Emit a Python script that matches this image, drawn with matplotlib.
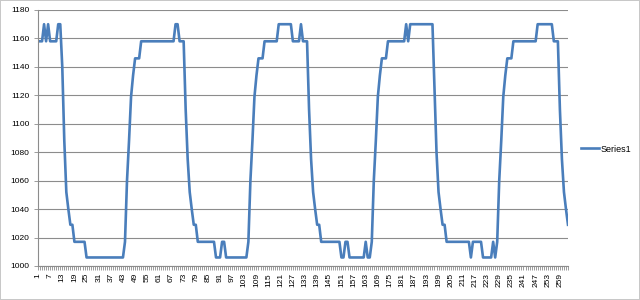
import numpy as np
import matplotlib.pyplot as plt
from matplotlib.ticker import FixedLocator, MultipleLocator

# values, one per category (1..263)
series1 = [
    1158, 1158, 1158, 1170, 1158, 1170, 1158, 1158, 1158, 1158,
    1170, 1170, 1140, 1088, 1052, 1040, 1029, 1029, 1017, 1017,
    1017, 1017, 1017, 1017, 1006, 1006, 1006, 1006, 1006, 1006,
    1006, 1006, 1006, 1006, 1006, 1006, 1006, 1006, 1006, 1006,
    1006, 1006, 1006, 1017, 1060, 1088, 1119, 1134, 1146, 1146,
    1146, 1158, 1158, 1158, 1158, 1158, 1158, 1158, 1158, 1158,
    1158, 1158, 1158, 1158, 1158, 1158, 1158, 1158, 1170, 1170,
    1158, 1158, 1158, 1110, 1075, 1052, 1040, 1029, 1029, 1017,
    1017, 1017, 1017, 1017, 1017, 1017, 1017, 1017, 1006, 1006,
    1006, 1017, 1017, 1006, 1006, 1006, 1006, 1006, 1006, 1006,
    1006, 1006, 1006, 1006, 1017, 1060, 1088, 1119, 1134, 1146,
    1146, 1146, 1158, 1158, 1158, 1158, 1158, 1158, 1158, 1170,
    1170, 1170, 1170, 1170, 1170, 1170, 1158, 1158, 1158, 1158,
    1170, 1158, 1158, 1158, 1110, 1075, 1052, 1040, 1029, 1029,
    1017, 1017, 1017, 1017, 1017, 1017, 1017, 1017, 1017, 1017,
    1006, 1006, 1017, 1017, 1006, 1006, 1006, 1006, 1006, 1006,
    1006, 1006, 1017, 1006, 1006, 1017, 1060, 1088, 1119, 1134,
    1146, 1146, 1146, 1158, 1158, 1158, 1158, 1158, 1158, 1158,
    1158, 1158, 1170, 1158, 1170, 1170, 1170, 1170, 1170, 1170,
    1170, 1170, 1170, 1170, 1170, 1170, 1125, 1080, 1052, 1040,
    1029, 1029, 1017, 1017, 1017, 1017, 1017, 1017, 1017, 1017,
    1017, 1017, 1017, 1017, 1006, 1017, 1017, 1017, 1017, 1017,
    1006, 1006, 1006, 1006, 1006, 1017, 1006, 1017, 1060, 1088,
    1119, 1134, 1146, 1146, 1146, 1158, 1158, 1158, 1158, 1158,
    1158, 1158, 1158, 1158, 1158, 1158, 1158, 1170, 1170, 1170,
    1170, 1170, 1170, 1170, 1170, 1158, 1158, 1158, 1110, 1075,
    1052, 1040, 1029,
]
categories = np.arange(1, len(series1) + 1)
x_labels = categories[::6]
y_ticks = list(range(1000, 1181, 20))

plt.rcParams['font.family'] = ['Liberation Sans', 'DejaVu Sans']

fig = plt.figure(figsize=(6.4, 3.0), dpi=100)
fig.patch.set_edgecolor('#c8c8c8')
fig.patch.set_linewidth(1.2)
ax = fig.add_axes([38 / 640, 34 / 300, 530 / 640, 256 / 300])

ax.plot(categories, series1, color='#4a7ebb', linewidth=1.9, label='Series1',
        solid_joinstyle='round')

ax.set_xlim(1, len(series1))
ax.set_ylim(1000, 1180)
ax.set_yticks(y_ticks)
ax.yaxis.grid(True, color='#8c8c8c', linewidth=0.8)
ax.set_axisbelow(True)

ax.xaxis.set_major_locator(FixedLocator(x_labels))
ax.xaxis.set_minor_locator(MultipleLocator(1))
ax.set_xticklabels([str(v) for v in x_labels], rotation=90, fontsize=6)
ax.tick_params(axis='x', which='both', length=3, color='#8c8c8c', width=0.6, pad=2)
ax.tick_params(axis='y', length=3, color='#8c8c8c', width=0.6, labelsize=6, pad=3)

for side in ('top', 'right'):
    ax.spines[side].set_visible(False)
for side in ('left', 'bottom'):
    ax.spines[side].set_color('#8c8c8c')
    ax.spines[side].set_linewidth(0.8)

ax.legend(loc='center left', bbox_to_anchor=(581 / 640, 151 / 300),
          bbox_transform=fig.transFigure, frameon=False, fontsize=6.5,
          handlelength=2.0, handletextpad=0.15, borderpad=0, borderaxespad=0)

fig.savefig('out.png', dpi=100, edgecolor=fig.get_edgecolor())
